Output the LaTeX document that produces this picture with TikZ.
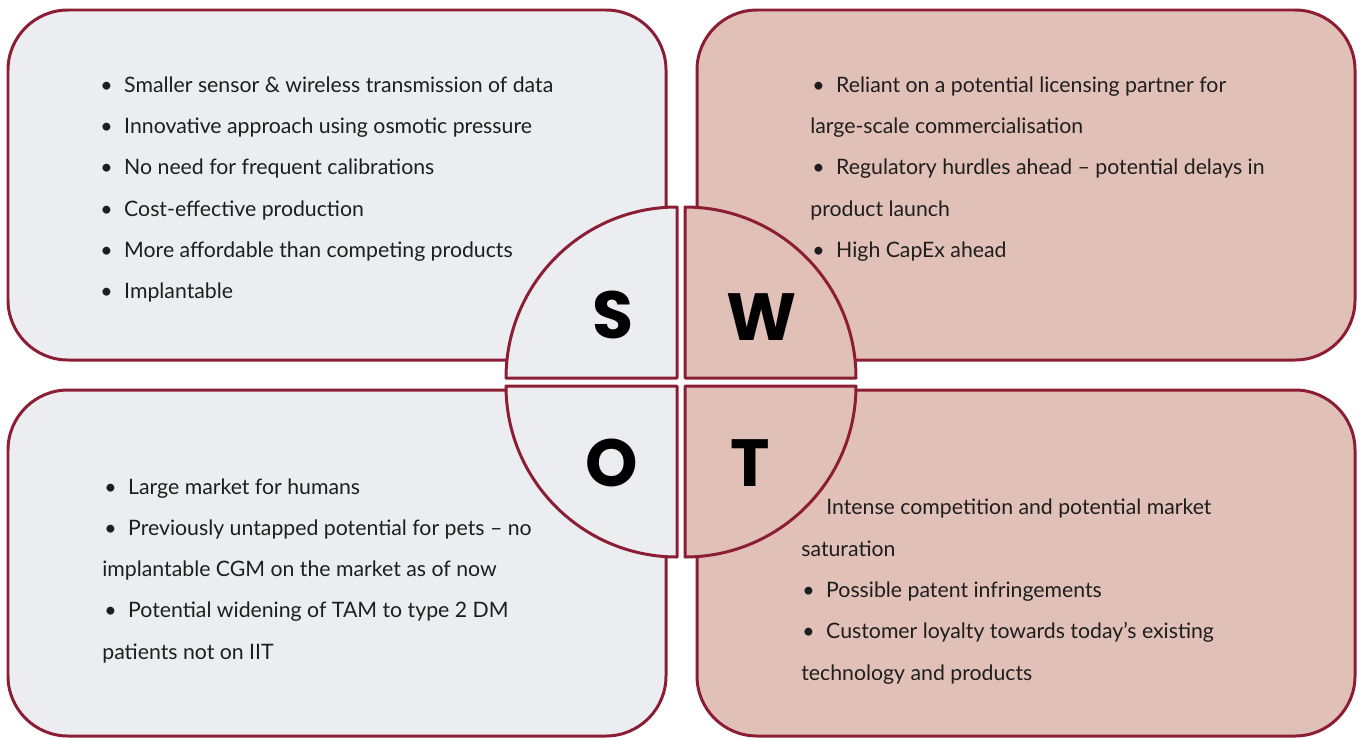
\documentclass[tikz,border=0pt]{standalone}
\usepackage{fontspec}
\setmainfont{Lato}
\newfontfamily\letterfont{Poppins}
\usepackage{tikz}
\usetikzlibrary{calc}
\definecolor{swotmaroon}{RGB}{139,30,52}
\definecolor{swotgray}{RGB}{236,237,240}
\definecolor{swotpink}{RGB}{225,193,183}
\definecolor{swottext}{RGB}{30,30,30}
\newcommand{\bul}{\makebox[13.6pt][l]{\textbullet}}

\tikzset{
  panel/.style={draw=swotmaroon, line width=1.7pt, rounded corners=1.2cm},
  quad/.style={draw=swotmaroon, line width=1.7pt},
  letter/.style={font=\letterfont\bfseries\fontsize{38}{38}\selectfont, inner sep=0pt},
  item/.style={anchor=base west, inner sep=0pt, text=swottext, font=\fontsize{12.1}{14}\selectfont}
}

\begin{document}
\begin{tikzpicture}[x=0.02cm, y=-0.02cm, line join=round]
  \useasboundingbox (0,0) rectangle (1362,738);

  % Four panels
  \filldraw[panel, fill=swotgray] (8,10) rectangle (666,360);
  \filldraw[panel, fill=swotpink] (697,10) rectangle (1355,360);
  \filldraw[panel, fill=swotgray] (8,390) rectangle (666,736);
  \filldraw[panel, fill=swotpink] (697,390) rectangle (1355,736);

  % Strengths
  \foreach \y/\txt [count=\i] in {92/Smaller sensor \& wireless transmission of data,
      133/Innovative approach using osmotic pressure,
      174/No need for frequent calibrations,
      216/Cost-effective production,
      257/More affordable than competing products,
      298/Implantable} {
    \node[item] (s\i) at (100,\y) {\bul\txt};
  }

  % Weaknesses
  \foreach \x/\y/\txt [count=\i] in {812/92/\bul Reliant on a potential licensing partner for,
      810/133/large-scale commercialisation,
      812/174/\bul Regulatory hurdles ahead – potential delays in,
      810/216/product launch,
      812/257/\bul High CapEx ahead} {
    \node[item] (w\i) at (\x,\y) {\txt};
  }

  % Opportunities
  \foreach \x/\y/\txt [count=\i] in {104/494/\bul Large market for humans,
      104/535/\bul Previously untapped potential for pets – no,
      102/576/implantable CGM on the market as of now,
      104/617/\bul Potential widening of TAM to type 2 DM,
      102/659/patients not on IIT} {
    \node[item] (o\i) at (\x,\y) {\txt};
  }

  % Threats
  \foreach \x/\y/\txt [count=\i] in {826/514/Intense competition and potential market,
      801/556/saturation,
      802/597/\bul Possible patent infringements,
      802/638/\bul Customer loyalty towards today’s existing,
      801/680/technology and products} {
    \node[item] (t\i) at (\x,\y) {\txt};
  }

  % Centre circle, split in four
  \coordinate (c) at (681,382);
  \filldraw[quad, fill=swotgray] ($(c)+(-4,-4)$) -- ++(-171,0)
    arc[start angle=180, end angle=270, radius=171] -- cycle;
  \filldraw[quad, fill=swotpink] ($(c)+(4,-4)$) -- ++(0,-171)
    arc[start angle=270, end angle=360, radius=171] -- cycle;
  \filldraw[quad, fill=swotgray] ($(c)+(-4,4)$) -- ++(-171,0)
    arc[start angle=180, end angle=90, radius=171] -- cycle;
  \filldraw[quad, fill=swotpink] ($(c)+(4,4)$) -- ++(171,0)
    arc[start angle=0, end angle=90, radius=171] -- cycle;

  \node[letter] (S) at (613,315) {S};
  \node[letter] (W) at (762,317) {W};
  \node[letter] (O) at (612,463) {O};
  \node[letter] (T) at (750,463) {T};
\end{tikzpicture}
\end{document}
